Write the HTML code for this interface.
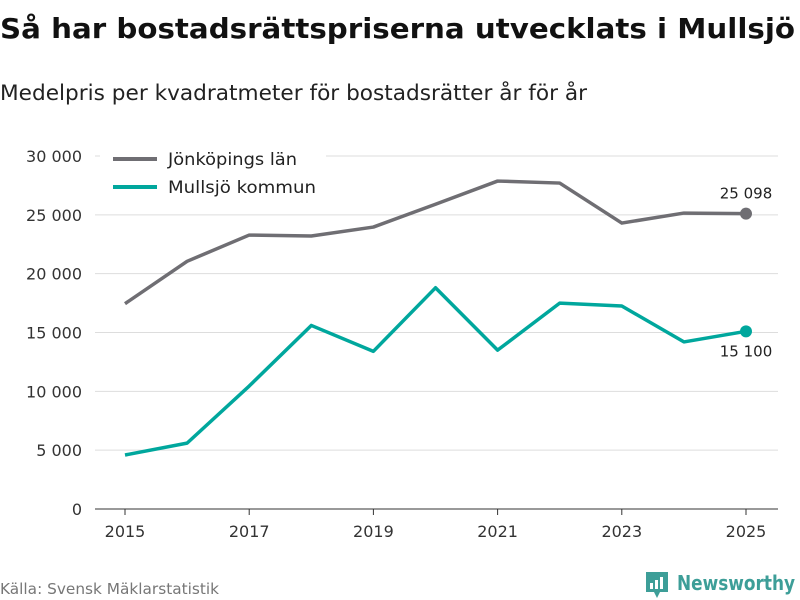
<!DOCTYPE html>
<html><head><meta charset="utf-8"><style>
body{margin:0;width:800px;height:600px;background:#fff;font-family:"DejaVu Sans","Liberation Sans",sans-serif;overflow:hidden}
</style></head><body>
<svg id="c" width="800" height="600" style="position:absolute;left:0;top:0">
<text x="0" y="38" font-size="28" font-weight="bold" fill="#111" textLength="795" lengthAdjust="spacingAndGlyphs">Så har bostadsrättspriserna utvecklats i Mullsjö</text>
<text x="0" y="100" font-size="21" fill="#222" textLength="587" lengthAdjust="spacingAndGlyphs">Medelpris per kvadratmeter för bostadsrätter år för år</text>
<g id="grid"></g><g id="lines"></g>
<g>
<rect x="100" y="145" width="226" height="58" fill="#fff"/>
<line x1="113" y1="159" x2="157" y2="159" stroke="#6f6e73" stroke-width="4"/>
<text x="168" y="165" font-size="17" fill="#222" textLength="129" lengthAdjust="spacingAndGlyphs">Jönköpings län</text>
<line x1="113" y1="187" x2="157" y2="187" stroke="#00a79d" stroke-width="4"/>
<text x="168" y="193" font-size="17" fill="#222" textLength="148" lengthAdjust="spacingAndGlyphs">Mullsjö kommun</text>
</g>
<text x="0" y="594" font-size="15" fill="#777" textLength="219" lengthAdjust="spacingAndGlyphs">Källa: Svensk Mäklarstatistik</text>
<g>
<path d="M646 572h22v20h-8l-3 6l-3-6h-8z" fill="#3d9e98"/>
<rect x="650" y="583" width="3" height="6" fill="#fff"/><rect x="655" y="580" width="3" height="9" fill="#fff"/><rect x="660" y="577" width="3" height="12" fill="#fff"/>
<text x="677" y="590" font-size="20" font-weight="bold" fill="#3d9e98" textLength="118" lengthAdjust="spacingAndGlyphs">Newsworthy</text>
</g>
</svg>
<script>
const years=[2015,2016,2017,2018,2019,2020,2021,2022,2023,2024,2025];
const jonkoping=[17450,21050,23280,23200,23960,25900,27870,27700,24300,25150,25098];
const mullsjo=[4590,5600,10450,15600,13400,18800,13500,17500,17250,14200,15100];
const yTicks=[0,5000,10000,15000,20000,25000,30000];
const xTicks=[2015,2017,2019,2021,2023,2025];
const ns='http://www.w3.org/2000/svg';
const X=v=>125+(v-2015)*62.1, Y=v=>509-v*353/30000;
const fmt=v=>v.toLocaleString('sv-SE').replace(/\s/g,' ');
function mk(t,a,p){const e=document.createElementNS(ns,t);for(const k in a)e.setAttribute(k,a[k]);p.appendChild(e);return e;}
const g=document.getElementById('grid'),L=document.getElementById('lines');
yTicks.forEach(v=>{
 const l=mk('line',{x1:95,x2:778,y1:Y(v),y2:Y(v),stroke:v?'#ddd':'#333','stroke-width':1},g);
 
 
 const t=mk('text',{x:82,y:Y(v)+6,'font-size':16,fill:'#333','text-anchor':'end'},g);t.textContent=fmt(v);
 
 
});
xTicks.forEach(v=>{
 mk('line',{x1:X(v),x2:X(v),y1:509,y2:515,stroke:'#333'},g);
 const t=mk('text',{x:X(v),y:537,'font-size':16,fill:'#333','text-anchor':'middle'},g);t.textContent=v;
 
 
});
[[jonkoping,'#6f6e73','jonkoping'],[mullsjo,'#00a79d','mullsjo']].forEach(([d,c,n])=>{
 const p=mk('polyline',{points:d.map((v,i)=>X(years[i])+','+Y(v)).join(' '),fill:'none',stroke:c,'stroke-width':3.5,'stroke-linejoin':'round'},L);
 
 
 const last=d.length-1;
 const dot=mk('circle',{cx:X(years[last]),cy:Y(d[last]),r:6,fill:c},L);
 
 
 const lab=mk('text',{x:X(years[last]),y:n=='jonkoping'?Y(d[last])-15:Y(d[last])+25,'font-size':15,fill:'#222','text-anchor':'middle'},L);
 lab.textContent=fmt(d[last]);
 
 
});
</script>
</body></html>
